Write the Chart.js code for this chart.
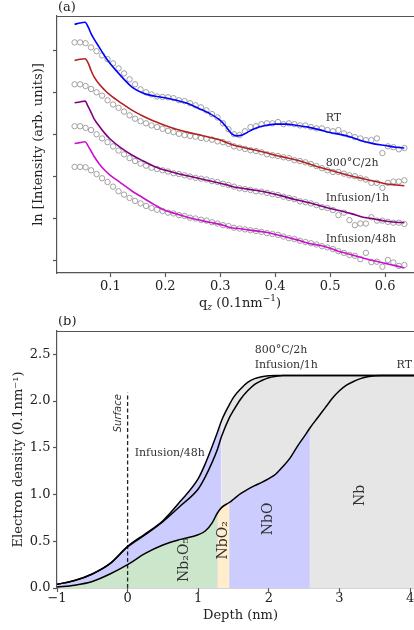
<!DOCTYPE html>
<html>
<head>
<meta charset="utf-8">
<script src="https://cdn.jsdelivr.net/npm/chart.js@4/dist/chart.umd.min.js"></script>
<style>
  html, body { margin: 0; padding: 0; background: #fff; overflow: hidden; width: 414px; height: 630px; }
  canvas { position: absolute; left: 0; width: 424px; height: 314px; }
  #chartA { top: 0; }
  #chartB { top: 316px; }
</style>
</head>
<body>
<canvas id="chartA" width="424" height="314"></canvas>
<canvas id="chartB" width="424" height="314"></canvas>
<script>
// ---------- panel (a): reflectivity, ln I (offset, arb. units) ----------
const qMeas = [0.035,0.045,0.055,0.065,0.075,0.085,0.095,0.105,0.115,0.125,0.135,0.145,0.155,0.165,0.175,0.185,0.195,0.205,0.215,0.225,0.235,0.245,0.255,0.265,0.275,0.285,0.295,0.305,0.315,0.325,0.335,0.345,0.355,0.365,0.375,0.385,0.395,0.405,0.415,0.425,0.435,0.445,0.455,0.465,0.475,0.485,0.495,0.505,0.515,0.525,0.535,0.545,0.555,0.565,0.575,0.585,0.595,0.605,0.615,0.625,0.635];
const rtMeas = [6.19,6.19,6.17,6.07,5.98,5.88,5.79,5.69,5.57,5.45,5.31,5.19,5.07,5.00,4.95,4.90,4.89,4.88,4.86,4.81,4.79,4.74,4.69,4.64,4.57,4.48,4.40,4.26,4.12,4.00,3.98,4.07,4.17,4.19,4.24,4.26,4.26,4.29,4.24,4.26,4.24,4.21,4.21,4.17,4.14,4.14,4.10,4.07,4.10,4.02,3.98,3.93,3.90,3.86,3.86,3.90,3.55,3.71,3.69,3.64,3.67];
const a800Meas = [5.19,5.19,5.15,5.08,5.00,4.92,4.81,4.71,4.63,4.54,4.45,4.37,4.31,4.26,4.21,4.17,4.13,4.08,4.05,4.01,3.98,3.96,3.94,3.91,3.89,3.87,3.83,3.81,3.77,3.71,3.68,3.65,3.62,3.60,3.57,3.52,3.50,3.48,3.45,3.43,3.38,3.36,3.33,3.29,3.24,3.19,3.14,3.10,3.10,3.06,3.02,3.00,2.95,2.92,2.84,2.84,2.72,2.84,2.87,2.87,2.90];
const inf1hMeas = [4.19,4.19,4.15,4.10,4.00,3.90,3.81,3.71,3.61,3.52,3.43,3.36,3.30,3.25,3.20,3.17,3.14,3.11,3.07,3.05,3.02,2.99,2.96,2.94,2.92,2.88,2.86,2.82,2.79,2.75,2.71,2.69,2.67,2.64,2.63,2.60,2.57,2.55,2.51,2.48,2.45,2.40,2.38,2.35,2.31,2.26,2.24,2.19,2.07,2.13,1.95,1.83,1.87,1.87,2.02,1.94,1.94,1.91,1.89,1.89,1.86];
const inf48hMeas = [3.22,3.22,3.21,3.14,3.05,2.95,2.86,2.75,2.64,2.56,2.48,2.41,2.35,2.29,2.24,2.20,2.17,2.13,2.11,2.07,2.05,2.01,1.99,1.96,1.94,1.90,1.87,1.83,1.81,1.77,1.75,1.73,1.71,1.69,1.67,1.64,1.62,1.60,1.56,1.52,1.50,1.46,1.43,1.40,1.37,1.33,1.30,1.26,1.21,1.17,1.12,1.10,1.02,1.17,0.95,0.96,0.84,1.00,0.94,0.86,0.88];

const qFit = [0.035,0.045,0.054,0.06,0.065,0.07,0.08,0.09,0.10,0.12,0.14,0.16,0.18,0.20,0.22,0.24,0.26,0.28,0.30,0.31,0.32,0.33,0.34,0.35,0.36,0.38,0.40,0.42,0.44,0.46,0.48,0.50,0.52,0.54,0.56,0.58,0.60,0.62,0.635];
const rtFit = [6.62,6.655,6.67,6.55,6.40,6.28,6.07,5.86,5.68,5.38,5.12,4.98,4.91,4.87,4.81,4.74,4.62,4.50,4.33,4.19,4.02,3.96,3.98,4.05,4.12,4.20,4.24,4.24,4.21,4.17,4.11,4.04,3.99,3.92,3.83,3.77,3.73,3.69,3.67];
const a800Fit = [5.76,5.79,5.80,5.69,5.52,5.38,5.19,5.05,4.93,4.74,4.57,4.43,4.31,4.21,4.12,4.05,3.99,3.93,3.86,3.81,3.76,3.72,3.69,3.66,3.63,3.57,3.50,3.44,3.38,3.30,3.21,3.14,3.07,3.00,2.94,2.88,2.82,2.79,2.77];
const inf1hFit = [4.75,4.77,4.79,4.65,4.52,4.38,4.19,4.02,3.88,3.67,3.50,3.36,3.23,3.14,3.07,3.01,2.95,2.89,2.83,2.80,2.76,2.73,2.71,2.69,2.67,2.63,2.57,2.50,2.43,2.37,2.30,2.23,2.17,2.10,2.02,1.98,1.93,1.90,1.89];
const inf48hFit = [3.78,3.80,3.82,3.71,3.60,3.48,3.29,3.14,3.02,2.83,2.64,2.48,2.32,2.18,2.10,2.02,1.96,1.90,1.85,1.81,1.77,1.755,1.74,1.72,1.70,1.67,1.61,1.55,1.48,1.40,1.35,1.28,1.19,1.12,1.05,0.98,0.92,0.86,0.81];

const sampleNames = ['RT', '800°C/2h', 'Infusion/1h', 'Infusion/48h'];
const fitColors = ['#0000ff', '#b22222', '#800080', '#cc11cc'];
const sampleLabelQ = 0.492;
const sampleLabelLn = [4.39, 3.30, 2.47, 1.49];
const qTicks = [0.1, 0.2, 0.3, 0.4, 0.5, 0.6];
const lnTicks = [1, 2, 3, 4, 5, 6];

// ---------- panel (b): electron density profiles ----------
const depth = [-1,-0.75,-0.5,-0.25,0,0.25,0.5,0.75,1.0,1.1,1.2,1.27,1.33,1.44,1.5,1.6,1.7,1.8,1.9,2.0,2.1,2.2,2.3,2.4,2.5,2.58,2.7,2.8,2.9,3.0,3.1,3.2,3.3,3.4,3.5,3.6,3.8,4.0,4.2];
const rho800 = [0.04,0.08,0.15,0.26,0.445,0.58,0.72,0.93,1.17,1.33,1.52,1.66,1.79,1.96,2.04,2.13,2.20,2.24,2.26,2.27,2.275,2.275,2.275,2.275,2.275,2.275,2.275,2.275,2.275,2.275,2.275,2.275,2.275,2.275,2.275,2.275,2.275,2.275,2.275];
const rho1h = [0.04,0.08,0.15,0.26,0.44,0.57,0.71,0.88,1.06,1.19,1.35,1.48,1.62,1.82,1.90,2.02,2.11,2.18,2.22,2.25,2.265,2.275,2.275,2.275,2.275,2.275,2.275,2.275,2.275,2.275,2.275,2.275,2.275,2.275,2.275,2.275,2.275,2.275,2.275];
const rhoRT = [0.01,0.03,0.07,0.15,0.25,0.37,0.46,0.52,0.57,0.61,0.70,0.80,0.86,0.915,0.95,1.01,1.055,1.095,1.13,1.17,1.22,1.30,1.39,1.51,1.62,1.71,1.83,1.93,2.03,2.11,2.17,2.21,2.24,2.26,2.27,2.275,2.275,2.275,2.275];

const layerNames = ['Nb₂O₅', 'NbO₂', 'NbO', 'Nb'];
const layerColors = ['#cce6cc', '#ffedcc', '#ccccff', '#e6e6e6'];
const layerEdges = [-1, 1.27, 1.44, 2.58, 4.2];
const layerLabelX = [0.80, 1.35, 1.99, 3.29];
const layerLabelY = [0.30, 0.51, 0.74, 0.99];
const oxideEdge = 1.33;
const surfaceTop = 2.09;
const rhoTicks = [0, 0.5, 1.0, 1.5, 2.0, 2.5];
const depthTicks = [-1, 0, 1, 2, 3, 4];

const serif = "'DejaVu Serif', serif";
const spine = '#555';
const ink = '#222';

function pts(xs, ys) {
  return xs.map((x, i) => ({ x: x, y: ys[i] }));
}

function slice(ys, from, to) {
  const out = [];
  depth.forEach((d, i) => {
    if (d >= from - 1e-9 && d <= to + 1e-9) out.push({ x: d, y: ys[i] });
  });
  return out;
}

// top spine (chart.js only draws left/bottom)
const frame = {
  id: 'frame',
  afterDraw(chart) {
    const { ctx, chartArea: a } = chart;
    const y = Math.floor(a.top) + 0.5;
    ctx.save();
    ctx.strokeStyle = spine;
    ctx.lineWidth = 1.2;
    ctx.beginPath();
    ctx.moveTo(a.left, y);
    ctx.lineTo(a.right, y);
    ctx.stroke();
    ctx.restore();
  }
};

// text labels placed in data coordinates (or pixels when px/py given)
const notes = {
  id: 'notes',
  afterDraw(chart, args, opts) {
    const { ctx, scales } = chart;
    ctx.save();
    (opts.items || []).forEach(n => {
      const px = n.px !== undefined ? n.px : scales.x.getPixelForValue(n.x);
      const py = n.py !== undefined ? n.py : scales.y.getPixelForValue(n.y);
      ctx.fillStyle = n.color || ink;
      if (n.parts) {
        let w = 0;
        n.parts.forEach(p => { ctx.font = p.font; w += ctx.measureText(p.t).width; });
        let cx = px - w / 2;
        ctx.textAlign = 'left';
        ctx.textBaseline = 'alphabetic';
        n.parts.forEach(p => {
          ctx.font = p.font;
          ctx.fillText(p.t, cx, py + (p.dy || 0));
          cx += ctx.measureText(p.t).width;
        });
        return;
      }
      ctx.font = n.font;
      ctx.textAlign = n.align || 'left';
      ctx.textBaseline = 'middle';
      if (n.rotate) {
        ctx.save();
        ctx.translate(px, py);
        ctx.rotate(-Math.PI / 2);
        ctx.fillText(n.text, 0, 0);
        ctx.restore();
      } else {
        ctx.fillText(n.text, px, py);
      }
    });
    ctx.restore();
  }
};

function axisBase(extra) {
  return Object.assign({
    type: 'linear',
    border: { display: true, color: spine, width: 1.2 },
    grid: { display: true, drawOnChartArea: false, drawTicks: true, tickLength: 4, tickColor: spine, tickWidth: 1.2 }
  }, extra);
}

// ---------- chart (a) ----------
const fitSets = [rtFit, a800Fit, inf1hFit, inf48hFit];
const measSets = [rtMeas, a800Meas, inf1hMeas, inf48hMeas];
const datasetsA = [];
fitSets.forEach((f, i) => {
  datasetsA.push({
    label: sampleNames[i] + ' fit',
    data: pts(qFit, f),
    borderColor: fitColors[i],
    borderWidth: 1.6,
    pointRadius: 0,
    cubicInterpolationMode: 'monotone',
    fill: false,
    order: 0
  });
});
measSets.forEach((m, i) => {
  datasetsA.push({
    label: sampleNames[i],
    data: pts(qMeas, m),
    showLine: false,
    pointStyle: 'circle',
    pointRadius: 2.7,
    pointBorderWidth: 1,
    pointBorderColor: '#a0a0a0',
    pointBackgroundColor: 'rgba(0,0,0,0)',
    order: 1
  });
});

new Chart(document.getElementById('chartA'), {
  type: 'line',
  data: { datasets: datasetsA },
  plugins: [frame, notes],
  options: {
    responsive: false,
    animation: false,
    devicePixelRatio: 1,
    events: [],
    layout: { autoPadding: false, padding: { top: 16, left: 0, right: 0, bottom: 0 } },
    scales: {
      x: axisBase({
        min: 0.003, max: 0.6707,
        afterBuildTicks: s => { s.ticks = qTicks.map(v => ({ value: v })); },
        afterFit: s => { s.height = 41; },
        ticks: { font: { family: serif, size: 13 }, color: ink, padding: 1.5, autoSkip: false, maxRotation: 0,
                 callback: v => v.toFixed(1) }
      }),
      y: axisBase({
        min: 0.69, max: 6.82,
        afterBuildTicks: s => { s.ticks = lnTicks.map(v => ({ value: v })); },
        afterFit: s => { s.width = 57; },
        ticks: { callback: () => '' },
        title: { display: true, text: 'ln [Intensity (arb. units)]', color: ink,
                 font: { family: serif, size: 13 }, padding: { top: 31, bottom: 0 } }
      })
    },
    plugins: {
      legend: { display: false },
      tooltip: { enabled: false },
      notes: {
        items: sampleNames.map((s, i) => ({ text: s, x: sampleLabelQ, y: sampleLabelLn[i], font: '11px ' + serif, color: '#333' }))
          .concat([
            { text: '(a)', px: 58, py: 8, font: '13px ' + serif },
            { px: 240, py: 307, parts: [
              { t: 'q', font: '13px ' + serif },
              { t: 'z', font: 'italic 9px ' + serif, dy: 3 },
              { t: ' (0.1nm', font: '13px ' + serif },
              { t: '−1', font: '9px ' + serif, dy: -6 },
              { t: ')', font: '13px ' + serif }
            ] }
          ])
      }
    }
  }
});

// ---------- chart (b) ----------
const datasetsB = [
  { label: 'RT', data: pts(depth, rhoRT), borderColor: '#000', borderWidth: 1.5, pointRadius: 0, cubicInterpolationMode: 'monotone', fill: false, order: 0 },
  { label: 'Infusion/1h', data: pts(depth, rho1h), borderColor: '#000', borderWidth: 1.5, pointRadius: 0, cubicInterpolationMode: 'monotone', fill: false, order: 0 },
  { label: '800°C/2h', data: pts(depth, rho800), borderColor: '#000', borderWidth: 1.5, pointRadius: 0, cubicInterpolationMode: 'monotone', fill: false, order: 0 },
  { label: 'Surface', data: [{ x: 0, y: 0 }, { x: 0, y: surfaceTop }], borderColor: '#222', borderWidth: 1.3, borderDash: [4, 2.5], pointRadius: 0, fill: false, order: 0 }
];
// layers under the RT profile
layerNames.forEach((name, i) => {
  datasetsB.push({
    label: name,
    data: slice(rhoRT, layerEdges[i], layerEdges[i + 1]),
    borderWidth: 0, pointRadius: 0, cubicInterpolationMode: 'monotone',
    backgroundColor: layerColors[i], fill: 'origin', order: 2
  });
});
// region between RT and the thinner-oxide profiles
datasetsB.push({
  label: 'oxide band', data: slice(rho800, -1, oxideEdge),
  borderWidth: 0, pointRadius: 0, cubicInterpolationMode: 'monotone',
  backgroundColor: layerColors[2], fill: 'origin', order: 3
});
datasetsB.push({
  label: 'metal band', data: slice(rho800, oxideEdge, 4.2),
  borderWidth: 0, pointRadius: 0, cubicInterpolationMode: 'monotone',
  backgroundColor: layerColors[3], fill: 'origin', order: 4
});

new Chart(document.getElementById('chartB'), {
  type: 'line',
  data: { datasets: datasetsB },
  plugins: [frame, notes],
  options: {
    responsive: false,
    animation: false,
    devicePixelRatio: 1,
    events: [],
    layout: { autoPadding: false, padding: { top: 15, left: 0, right: 0, bottom: 0 } },
    scales: {
      x: axisBase({
        min: -1, max: 4.198,
        afterBuildTicks: s => { s.ticks = depthTicks.map(v => ({ value: v })); },
        afterFit: s => { s.height = 42; },
        ticks: { font: { family: serif, size: 13 }, color: ink, padding: -1.5, autoSkip: false, maxRotation: 0,
                 callback: v => (v < 0 ? '−' + Math.abs(v) : String(v)) },
        title: { display: true, text: 'Depth (nm)', color: ink, font: { family: serif, size: 13 }, padding: { top: 0, bottom: 7 } }
      }),
      y: axisBase({
        min: 0, max: 2.75,
        afterBuildTicks: s => { s.ticks = rhoTicks.map(v => ({ value: v })); },
        afterFit: s => { s.width = 57; },
        ticks: { font: { family: serif, size: 13 }, color: ink, padding: 2.5, callback: v => v.toFixed(1) },
        title: { display: true, text: 'Electron density (0.1nm⁻¹)', color: ink,
                 font: { family: serif, size: 13 }, padding: { top: 11, bottom: 0 } }
      })
    },
    plugins: {
      legend: { display: false },
      tooltip: { enabled: false },
      notes: {
        items: layerNames.map((s, i) => ({ text: s, x: layerLabelX[i], y: layerLabelY[i], font: '14px ' + serif, align: 'center', rotate: true, color: '#333' }))
          .concat([
            { text: 'Surface', x: -0.13, y: 1.87, font: "italic 10px 'DejaVu Sans', sans-serif", align: 'center', rotate: true, color: '#333' },
            { text: '800°C/2h', x: 1.80, y: 2.54, font: '11px ' + serif, color: '#333' },
            { text: 'Infusion/1h', x: 1.80, y: 2.39, font: '11px ' + serif, color: '#333' },
            { text: 'RT', x: 3.81, y: 2.39, font: '11px ' + serif, color: '#333' },
            { text: 'Infusion/48h', x: 0.10, y: 1.44, font: '11px ' + serif, color: '#333' },
            { text: '(b)', px: 58, py: 6, font: '13px ' + serif }
          ])
      }
    }
  }
});
</script>
</body>
</html>
